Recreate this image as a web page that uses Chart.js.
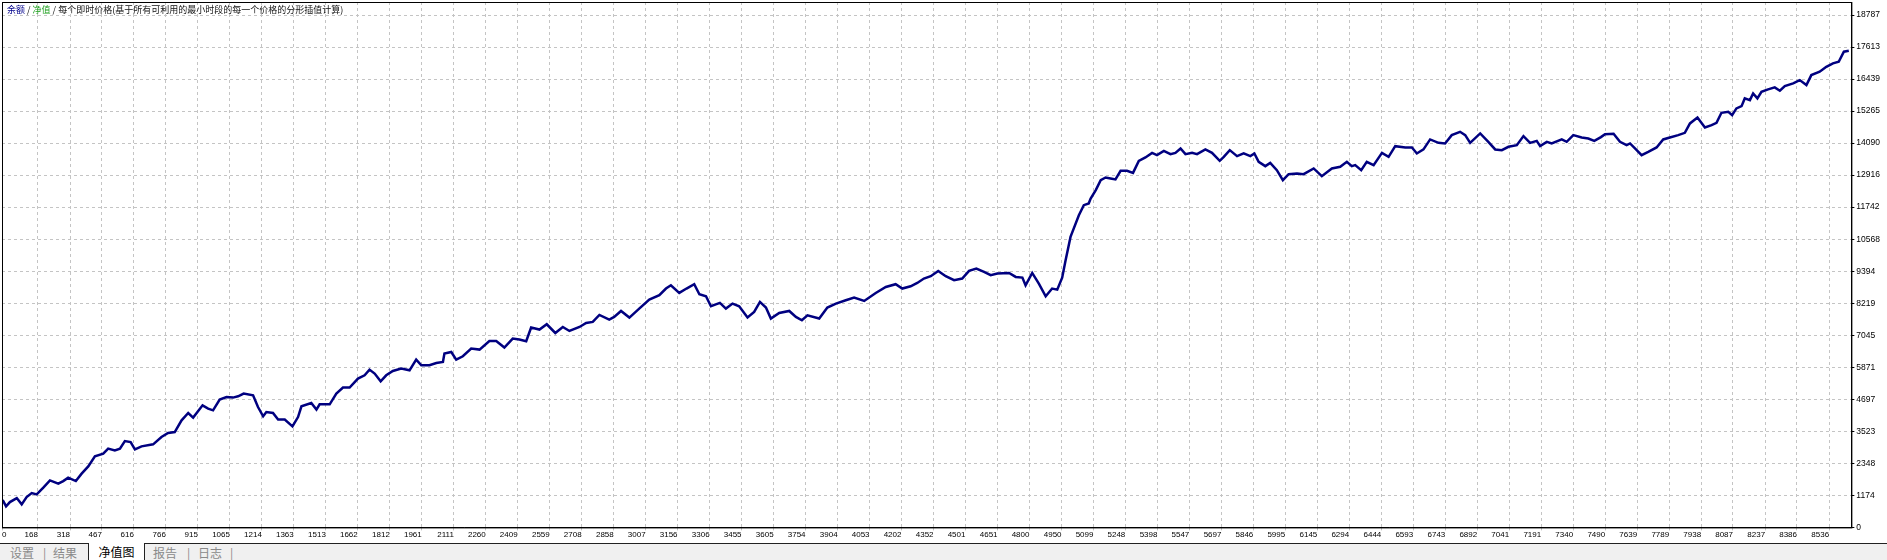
<!DOCTYPE html>
<html lang="zh">
  <head>
    <meta charset="UTF-8" />
    <title>净值图</title>
    <script src="https://cdn.jsdelivr.net/npm/chart.js"></script>
    <style>
      body {
        margin: 0;
        width: 1887px;
        height: 560px;
        background: #fff;
        overflow: hidden;
        position: relative;
        font-family: "Noto Sans CJK SC", sans-serif;
      }
      .plot {
        position: absolute;
        left: 0;
        top: 0;
        width: 1887px;
        height: 543px;
      }
      .caption {
        position: absolute;
        left: 7px;
        top: 5px;
        font-size: 9px;
        line-height: 10px;
        color: #111;
        white-space: nowrap;
      }
      .tabs {
        position: absolute;
        left: 0;
        top: 543px;
        width: 1887px;
        height: 17px;
        background: #f0f0f0;
        border-top: 1px solid #222;
        font-size: 12px;
        line-height: 16px;
        color: #8a8a8a;
      }
      .tabs span {
        position: absolute;
        top: 1px;
      }
      .tabs .active {
        top: -1px;
        left: 88px;
        width: 55px;
        height: 18px;
        background: #fff;
        border-left: 1px solid #222;
        border-right: 1px solid #222;
        color: #000;
        text-align: center;
        line-height: 18px;
      }
    </style>
  </head>
  <body>
    <div class="plot"><canvas id="equityChart"></canvas></div>
    <div class="caption">
      <span style="color: #00008b">余额</span> / <span style="color: #1ea01e">净值</span> / 每个即时价格(基于所有可利用的最小时段的每一个价格的分形插值计算)
    </div>
    <div class="tabs">
      <span style="left: 10px">设置</span>
      <span style="left: 43px">|</span>
      <span style="left: 53px">结果</span>
      <span class="active">净值图</span>
      <span style="left: 153px">报告</span>
      <span style="left: 187px">|</span>
      <span style="left: 198px">日志</span>
      <span style="left: 230px">|</span>
    </div>

    <script>
      // bar number and equity
      const bars = [
        0, 6, 19, 37, 69, 92, 115, 139, 162, 193, 224, 263, 286, 309, 345, 372,
        403, 434, 473, 496, 527, 551, 574, 601, 621, 652, 706, 745, 776, 807,
        839, 870, 893, 937, 963, 986, 1017, 1049, 1079, 1103, 1129, 1173, 1196,
        1220, 1235, 1266, 1290, 1321, 1357, 1383, 1399, 1445, 1469, 1484, 1531,
        1562, 1593, 1624, 1663, 1694, 1717, 1741, 1769, 1795, 1826, 1865, 1904,
        1935, 1959, 1997, 2029, 2060, 2067, 2099, 2122, 2153, 2192, 2231, 2277,
        2309, 2347, 2386, 2417, 2449, 2472, 2511, 2545, 2585, 2620, 2651, 2698,
        2729, 2760, 2791, 2837, 2860, 2892, 2931, 2977, 3024, 3071, 3102, 3125,
        3164, 3198, 3234, 3258, 3289, 3312, 3354, 3382, 3413, 3444, 3483, 3514,
        3541, 3569, 3592, 3631, 3678, 3709, 3737, 3763, 3818, 3856, 3896, 3942,
        3981, 4028, 4082, 4129, 4175, 4206, 4245, 4276, 4307, 4339, 4374, 4409,
        4448, 4486, 4518, 4552, 4588, 4619, 4650, 4705, 4736, 4767, 4782, 4813,
        4844, 4876, 4906, 4930, 4953, 4969, 4992, 5031, 5054, 5077, 5086, 5110,
        5133, 5156, 5179, 5202, 5226, 5256, 5284, 5311, 5342, 5373, 5396, 5428,
        5459, 5482, 5506, 5529, 5560, 5583, 5622, 5653, 5689, 5708, 5736, 5770,
        5801, 5832, 5851, 5871, 5902, 5925, 5956, 5984, 6011, 6050, 6081, 6128,
        6166, 6213, 6252, 6283, 6306, 6322, 6350, 6376, 6408, 6447, 6478, 6509,
        6556, 6587, 6610, 6641, 6672, 6711, 6742, 6773, 6812, 6836, 6859, 6906,
        6944, 6976, 7007, 7038, 7077, 7108, 7139, 7170, 7186, 7217, 7240, 7287,
        7310, 7341, 7380, 7411, 7439, 7470, 7489, 7529, 7559, 7590, 7606, 7629,
        7660, 7691, 7730, 7761, 7792, 7831, 7862, 7886, 7921, 7956, 7987, 8010,
        8033, 8065, 8083, 8103, 8127, 8142, 8166, 8181, 8201, 8220, 8251, 8282,
        8306, 8329, 8368, 8399, 8430, 8453, 8492, 8523, 8554, 8581, 8605, 8628,
      ];
      const equity = [
        1000, 965, 770, 928, 1075, 844, 1112, 1258, 1211, 1456, 1724, 1603, 1699,
        1824, 1699, 1970, 2238, 2605, 2704, 2888, 2825, 2888, 3167, 3130, 2862,
        2972, 3045, 3313, 3460, 3497, 3926, 4194, 4025, 4476, 4355, 4293, 4685,
        4781, 4759, 4806, 4905, 4843, 4414, 4073, 4230, 4194, 3952, 3952, 3706,
        4047, 4440, 4561, 4318, 4513, 4513, 4905, 5126, 5126, 5456, 5577, 5786,
        5640, 5357, 5577, 5735, 5823, 5760, 6153, 5944, 5944, 6028, 6065, 6373,
        6432, 6153, 6274, 6557, 6520, 6836, 6836, 6593, 6924, 6887, 6824, 7327,
        7254, 7448, 7129, 7349, 7202, 7349, 7496, 7533, 7790, 7621, 7716, 7936,
        7694, 8024, 8354, 8512, 8758, 8879, 8597, 8758, 8916, 8549, 8476, 8108,
        8230, 8024, 8207, 8108, 7694, 7899, 8266, 8061, 7657, 7863, 7936, 7716,
        7595, 7778, 7657, 8061, 8207, 8329, 8427, 8303, 8597, 8817, 8916, 8758,
        8842, 8964, 9125, 9209, 9404, 9209, 9062, 9125, 9404, 9492, 9367, 9246,
        9308, 9330, 9184, 9158, 8879, 9330, 8941, 8476, 8758, 8717, 9158, 9796,
        10651, 11447, 11814, 11875, 12060, 12365, 12731, 12831, 12794, 12758,
        13073, 13073, 12999, 13440, 13564, 13733, 13649, 13806, 13685, 13733,
        13895, 13685, 13733, 13685, 13858, 13733, 13440, 13587, 13833, 13612,
        13711, 13612, 13711, 13403, 13245, 13366, 13098, 12731, 12952, 12977,
        12952, 13161, 12878, 13161, 13220, 13403, 13245, 13282, 13098, 13403,
        13282, 13733, 13587, 13979, 13931, 13931, 13711, 13858, 14225, 14100,
        14078, 14382, 14504, 14382, 14100, 14445, 14137, 13858, 13833, 13955,
        14016, 14346, 14100, 14173, 13979, 14137, 14078, 14225, 14137, 14382,
        14297, 14260, 14173, 14310, 14419, 14430, 14137, 14016, 14078, 13895,
        13649, 13770, 13931, 14225, 14297, 14382, 14467, 14812, 15032, 14665,
        14749, 14834, 15201, 15238, 15116, 15362, 15446, 15729, 15667, 15912,
        15729, 15973, 16061, 16135, 16010, 16180, 16279, 16400, 16217, 16584,
        16706, 16889, 17013, 17074, 17441, 17477,
      ];

      // axis labels as printed by the tester
      const barLabels = [
        0, 168, 318, 467, 616, 766, 915, 1065, 1214, 1363, 1513, 1662, 1812,
        1961, 2111, 2260, 2409, 2559, 2708, 2858, 3007, 3156, 3306, 3455, 3605,
        3754, 3904, 4053, 4202, 4352, 4501, 4651, 4800, 4950, 5099, 5248, 5398,
        5547, 5697, 5846, 5995, 6145, 6294, 6444, 6593, 6743, 6892, 7041, 7191,
        7340, 7490, 7639, 7789, 7938, 8087, 8237, 8386, 8536,
      ];
      const equityLabels = [
        0, 1174, 2348, 3523, 4697, 5871, 7045, 8219, 9394, 10568, 11742, 12916,
        14090, 15265, 16439, 17613, 18787,
      ];
      const barMax = 8640;
      const equityMax = 19264;

      const gridColor = "#c4c4c4";
      const tickFont = { family: "'Liberation Sans', Arial, sans-serif", size: 8 };

      // black frame around the plot (top and left edges)
      const frame = {
        id: "frame",
        afterDraw(chart) {
          const { ctx, chartArea: a } = chart;
          ctx.save();
          ctx.strokeStyle = "#000";
          ctx.lineWidth = 1;
          ctx.strokeRect(a.left + 0.5, a.top + 0.5, a.right - a.left, a.bottom - a.top);
          ctx.restore();
        },
      };

      // first bar label sits right of the edge like in the tester
      const firstLabel = {
        id: "firstLabel",
        beforeDraw(chart) {
          const items = chart.scales.x.getLabelItems();
          if (items && items[0] && items[0].options) {
            items[0].options.textAlign = "left";
          }
        },
      };

      const ctx = document.getElementById("equityChart").getContext("2d");
      new Chart(ctx, {
        type: "line",
        data: {
          datasets: [
            {
              label: "净值",
              data: bars.map((b, i) => ({ x: b, y: equity[i] })),
              borderColor: "#000080",
              borderWidth: 2.5,
              pointRadius: 0,
              tension: 0,
              fill: false,
            },
          ],
        },
        options: {
          responsive: true,
          maintainAspectRatio: false,
          animation: false,
          layout: { padding: { left: 2, top: 2, right: 5, bottom: 3 } },
          plugins: {
            legend: { display: false },
            tooltip: { enabled: false },
          },
          scales: {
            x: {
              type: "linear",
              min: 0,
              max: barMax,
              afterBuildTicks: (s) => {
                s.ticks = barLabels.map((v) => ({ value: v }));
              },
              afterFit: (s) => {
                s.paddingLeft = 0;
                s.paddingRight = 0;
              },
              ticks: {
                align: "end",
                autoSkip: false,
                maxRotation: 0,
                padding: 0,
                color: "#000",
                font: tickFont,
                callback: (v) => String(v),
              },
              grid: { color: gridColor, tickLength: 3, tickColor: gridColor },
              border: { color: "#000", width: 1, dash: [3, 3] },
            },
            y: {
              position: "right",
              min: 0,
              max: equityMax,
              afterBuildTicks: (s) => {
                s.ticks = equityLabels.map((v) => ({ value: v }));
              },
              afterFit: (s) => {
                s.paddingTop = 0;
                s.paddingBottom = 0;
              },
              ticks: {
                padding: 2,
                color: "#000",
                font: { ...tickFont, size: 8.5 },
                callback: (v) => String(v),
              },
              grid: { color: gridColor, tickLength: 3, tickColor: "#000" },
              border: { color: "#000", width: 1, dash: [3, 3] },
            },
          },
        },
        plugins: [frame, firstLabel],
      });
    </script>
  </body>
</html>
